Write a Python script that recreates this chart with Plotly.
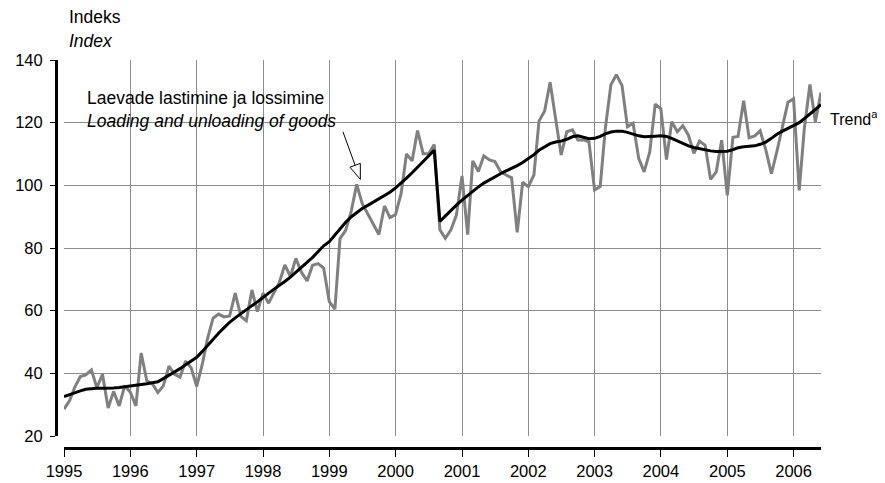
import pandas as pd
import plotly.graph_objects as go

# Monthly index, Jan 1995 - Jun 2006
months = pd.date_range("1995-01-01", periods=138, freq="MS")

loading = [
    28.6, 31.3, 35.5, 39.0, 39.5, 41.1, 35.4, 39.7, 28.9, 34.2, 29.6, 36.0,   # 1995
    34.0, 29.6, 46.5, 37.6, 36.7, 33.9, 36.0, 42.3, 39.7, 38.8, 43.9, 41.8,   # 1996
    35.8, 43.0, 51.0, 57.6, 58.9, 58.0, 58.3, 65.6, 58.2, 56.8, 66.6, 59.7,   # 1997
    65.6, 62.4, 65.6, 69.0, 74.6, 70.9, 76.7, 72.2, 69.5, 74.5, 75.0, 73.6,   # 1998
    62.9, 60.5, 83.0, 85.6, 91.5, 100.3, 94.2, 91.0, 87.8, 84.3, 93.4, 89.7,  # 1999
    90.7, 97.5, 110.0, 107.8, 117.5, 110.1, 110.1, 113.0, 85.8, 83.1, 85.8, 90.5,  # 2000
    103.0, 84.3, 107.8, 104.4, 109.4, 108.1, 107.6, 104.4, 103.3, 102.4, 85.0, 101.0,  # 2001
    99.6, 103.3, 120.5, 123.7, 132.9, 121.4, 109.7, 117.1, 117.7, 114.5, 114.5, 113.9,  # 2002
    98.5, 99.6, 118.0, 132.1, 135.3, 131.9, 118.7, 119.8, 108.6, 104.3, 110.7, 125.9,  # 2003
    124.4, 108.2, 120.3, 117.1, 119.0, 116.0, 110.2, 114.1, 112.8, 101.9, 104.3, 114.4,  # 2004
    96.8, 115.3, 115.6, 127.0, 115.2, 115.8, 117.4, 111.3, 103.7, 110.8, 118.8, 126.5,  # 2005
    127.6, 98.4, 118.0, 132.2, 120.3, 129.6,  # 2006
]

trend = [
    32.6, 33.3, 33.9, 34.4, 34.9, 35.1, 35.2, 35.2, 35.2, 35.3, 35.5, 35.7,
    35.9, 36.1, 36.4, 36.7, 37.0, 37.3, 38.3, 39.3, 40.4, 41.5, 42.7, 43.9,
    45.1, 47.0, 48.9, 50.9, 52.8, 54.6, 56.3, 57.7, 59.1, 60.4, 61.6, 62.8,
    64.3, 65.6, 66.8, 68.0, 69.3, 70.7, 72.2, 73.7, 75.3, 77.0, 78.9, 80.7,
    82.0, 84.2, 86.3, 88.2, 89.9, 91.3, 92.6, 93.6, 94.6, 95.6, 96.6, 97.8,
    99.2, 100.7, 102.3, 104.0, 105.7, 107.5, 109.3, 111.2, 88.5, 90.3, 92.0, 93.7,
    95.3, 96.8, 98.2, 99.5, 100.7, 101.8, 102.8, 103.7, 104.6, 105.4, 106.3, 107.3,
    108.5, 109.8, 111.2, 112.4, 113.3, 113.8, 114.1, 114.7, 115.5, 115.8, 115.4, 114.9,
    115.0, 115.6, 116.4, 117.0, 117.3, 117.3, 116.9, 116.3, 115.8, 115.5, 115.5, 115.7,
    115.8, 115.6, 115.0, 114.2, 113.3, 112.6, 112.1, 111.7, 111.3, 111.0, 110.8, 110.8,
    110.9, 111.4, 112.0, 112.3, 112.4, 112.6, 113.1, 113.8, 115.0, 116.3, 117.3, 118.2,
    119.0, 120.0, 121.3, 122.7, 124.2, 125.8,
]

FONT = "Arial, Liberation Sans, sans-serif"
TXT = dict(family=FONT, size=17.5, color="black")

fig = go.Figure()
fig.add_trace(go.Scatter(x=months, y=loading, mode="lines",
                         line=dict(color="#808080", width=3), showlegend=False))
fig.add_trace(go.Scatter(x=months, y=trend, mode="lines",
                         line=dict(color="black", width=3), showlegend=False))

# arrow with open head pointing at the series
tip_x, tip_y = "1999-06-21", 101.9
fig.add_shape(type="path", xref="x", yref="y", xsizemode="pixel", ysizemode="pixel",
              xanchor=tip_x, yanchor=tip_y,
              path="M -17.4 47.6 L -5.2 14.1", line=dict(color="black", width=1))
fig.add_shape(type="path", xref="x", yref="y", xsizemode="pixel", ysizemode="pixel",
              xanchor=tip_x, yanchor=tip_y,
              path="M 0 0 L 0 16 L -10.4 12.2 Z", fillcolor="white",
              line=dict(color="black", width=1))

fig.add_annotation(x="1995-04-24", y=128, xref="x", yref="y", xanchor="left", yanchor="middle",
                   text="Laevade lastimine ja lossimine", showarrow=False, font=TXT)
fig.add_annotation(x="1995-04-24", y=120.5, xref="x", yref="y", xanchor="left", yanchor="middle",
                   text="<i>Loading and unloading of goods</i>", showarrow=False, font=TXT)
fig.add_annotation(x=0.014, y=1.112, xref="paper", yref="paper", xanchor="left", yanchor="middle",
                   text="Indeks", showarrow=False, font=TXT)
fig.add_annotation(x=0.014, y=1.049, xref="paper", yref="paper", xanchor="left", yanchor="middle",
                   text="<i>Index</i>", showarrow=False, font=TXT)
fig.add_annotation(x=1.009, y=121.5, xref="paper", yref="y", xanchor="left", yanchor="middle",
                   text="Trend<sup>a</sup>", showarrow=False,
                   font=dict(family=FONT, size=16, color="black"))

# page body has an 8px margin, so the figure is drawn 8px smaller and offset
fig.update_layout(
    width=877, height=475,
    margin=dict(l=48, r=64, t=52, b=35),
    paper_bgcolor="white", plot_bgcolor="white",
    font=dict(family=FONT, size=16.5, color="black"),
    xaxis=dict(
        type="date", range=["1995-01-01", "2006-06-01"],
        domain=[8 / 765, 1], anchor="free", position=0, automargin=False,
        tick0="1995-01-01", dtick="M12", tickformat="%Y",
        showgrid=True, gridcolor="#8c8c8c", gridwidth=1,
        showline=True, linecolor="black", linewidth=3,
        ticks="outside", ticklen=7, tickcolor="black", tickwidth=1,
        zeroline=False,
    ),
    yaxis=dict(
        range=[20, 140], dtick=20,
        domain=[12 / 388, 1], anchor="free", position=0, automargin=False,
        showgrid=True, gridcolor="#8c8c8c", gridwidth=1,
        showline=True, linecolor="black", linewidth=3,
        ticks="outside", ticklen=5, tickcolor="black", tickwidth=1,
        ticklabelstandoff=4, zeroline=False,
    ),
)

fig.write_html("out.html")
